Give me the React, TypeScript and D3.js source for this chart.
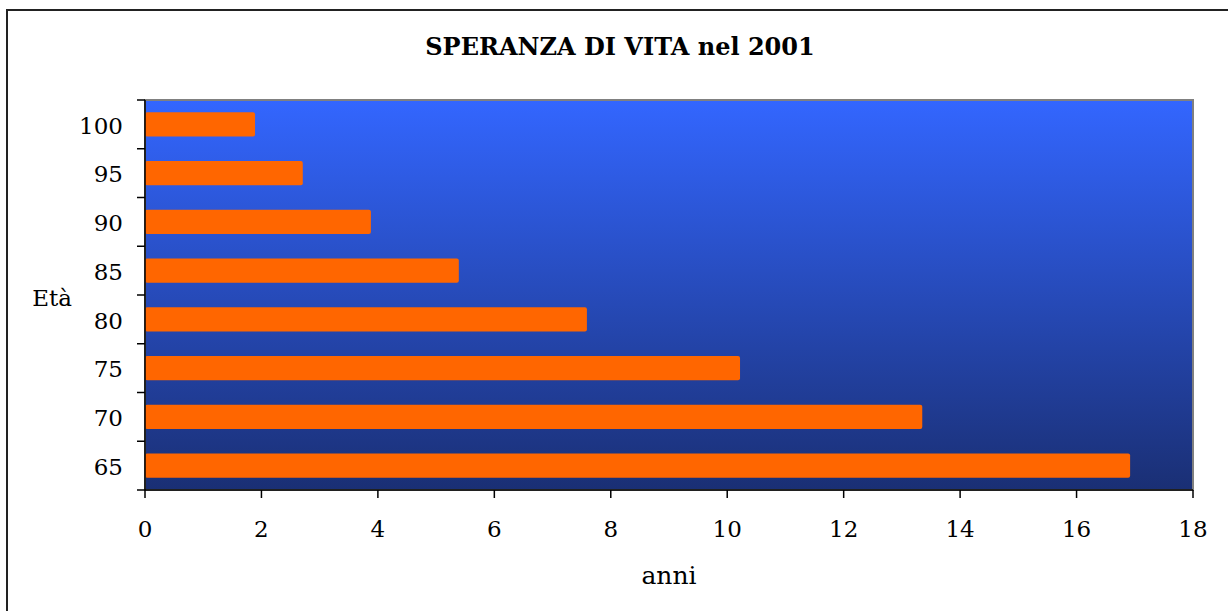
import React, { useEffect, useRef } from 'react';
import * as d3 from 'd3';

const ages = ['100', '95', '90', '85', '80', '75', '70', '65'];
const years = [1.89, 2.71, 3.88, 5.39, 7.59, 10.22, 13.35, 16.92];
const xTicks = [0, 2, 4, 6, 8, 10, 12, 14, 16, 18];

const SperanzaChart = () => {
  const svgRef = useRef<SVGSVGElement>(null);
  const totalWidth = 1228;
  const totalHeight = 611;
  const margin = { top: 100, right: 35, bottom: 121, left: 145 };
  const width = totalWidth - margin.left - margin.right;
  const height = totalHeight - margin.top - margin.bottom;
  const font = "'DejaVu Serif', Georgia, serif";

  useEffect(() => {
    const root = d3.select(svgRef.current);
    root.selectAll('*').remove();
    root.attr('width', totalWidth).attr('height', totalHeight);

    // outer chart frame
    root.append('rect')
      .attr('x', 7).attr('y', 10)
      .attr('width', totalWidth).attr('height', totalHeight)
      .attr('fill', 'white')
      .attr('stroke', '#222').attr('stroke-width', 2);

    const defs = root.append('defs');
    const grad = defs.append('linearGradient')
      .attr('id', 'bgGrad').attr('x1', 0).attr('y1', 0).attr('x2', 0).attr('y2', 1);
    grad.append('stop').attr('offset', '0%').attr('stop-color', '#3366ff');
    grad.append('stop').attr('offset', '100%').attr('stop-color', '#1a2f74');

    root.append('text')
      .attr('x', 620).attr('y', 55)
      .attr('text-anchor', 'middle')
      .attr('font-family', font)
      .attr('font-weight', 'bold')
      .attr('font-size', 24)
      .text('SPERANZA DI VITA nel 2001');

    const svg = root.append('g')
      .attr('transform', `translate(${margin.left},${margin.top})`);

    const x = d3.scaleLinear().domain([0, 18]).range([0, width]);
    const y = d3.scaleBand().domain(ages).range([0, height]).paddingInner(0.5).paddingOuter(0.25);

    // plot area
    svg.append('rect')
      .attr('width', width).attr('height', height)
      .attr('fill', 'url(#bgGrad)')
      .attr('stroke', '#808080').attr('stroke-width', 2);

    // bars
    svg.append('g')
      .selectAll('rect')
      .data(ages)
      .enter().append('rect')
        .attr('x', x(0))
        .attr('y', (d: any) => y(d) as number)
        .attr('width', (d: any, i: number) => x(years[i]) - x(0))
        .attr('height', y.bandwidth())
        .attr('rx', 2)
        .attr('fill', '#ff6600');

    // y axis: ticks on band edges
    const yEdges = d3.range(ages.length + 1).map(i => i * height / ages.length);
    const yAxis = svg.append('g');
    yAxis.append('line')
      .attr('x1', 0).attr('x2', 0).attr('y1', 0).attr('y2', height)
      .attr('stroke', '#000').attr('stroke-width', 1.5);
    yAxis.selectAll('line.tick')
      .data(yEdges)
      .enter().append('line')
        .attr('class', 'tick')
        .attr('x1', -8).attr('x2', 0)
        .attr('y1', (d: number) => d).attr('y2', (d: number) => d)
        .attr('stroke', '#000').attr('stroke-width', 1.5);
    yAxis.selectAll('text')
      .data(ages)
      .enter().append('text')
        .attr('x', -22)
        .attr('y', (d: any) => (y(d) as number) + y.bandwidth() / 2)
        .attr('dy', '0.4em')
        .attr('text-anchor', 'end')
        .attr('font-family', font)
        .attr('font-size', 23)
        .text((d: any) => d);

    // x axis
    const xAxis = svg.append('g').attr('transform', `translate(0,${height})`);
    xAxis.append('line')
      .attr('x1', 0).attr('x2', width)
      .attr('stroke', '#000').attr('stroke-width', 1.5);
    xAxis.selectAll('line.tick')
      .data(xTicks)
      .enter().append('line')
        .attr('class', 'tick')
        .attr('x1', (d: number) => x(d)).attr('x2', (d: number) => x(d))
        .attr('y1', 0).attr('y2', 8)
        .attr('stroke', '#000').attr('stroke-width', 1.5);
    xAxis.selectAll('text')
      .data(xTicks)
      .enter().append('text')
        .attr('x', (d: number) => x(d))
        .attr('y', 47)
        .attr('text-anchor', 'middle')
        .attr('font-family', font)
        .attr('font-size', 23)
        .text((d: number) => d);

    // axis titles
    root.append('text')
      .attr('x', 52).attr('y', 306)
      .attr('text-anchor', 'middle')
      .attr('font-family', font)
      .attr('font-size', 23)
      .text('Età');
    root.append('text')
      .attr('x', 669).attr('y', 584)
      .attr('text-anchor', 'middle')
      .attr('font-family', font)
      .attr('font-size', 25)
      .text('anni');
  }, []);

  return <svg ref={svgRef} style={{ position: 'absolute', left: 0, top: 0 }} />;
};

export default function App() {
  return <SperanzaChart />;
}
